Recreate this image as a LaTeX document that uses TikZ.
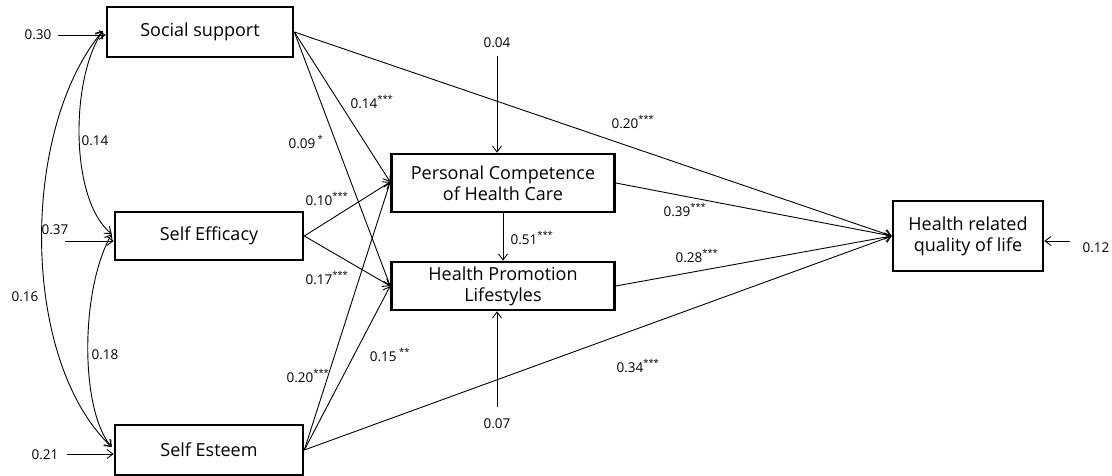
\documentclass[tikz,border=0pt]{standalone}
\usepackage{fontspec}
\setmainfont{Open Sans}
\usetikzlibrary{arrows.meta,calc}
\begin{document}
\begin{tikzpicture}[x=1pt,y=-1pt,
  box/.style={draw,line width=2.6pt,align=center,inner sep=0pt,font=\fontsize{18}{21}\selectfont},
  lab/.style={font=\fontsize{13.5}{15}\selectfont,inner sep=1pt},
  arr/.style={line width=0.9pt,-{Straight Barb[length=6pt,width=9pt]}},
  dbl/.style={line width=0.9pt,{Straight Barb[length=6pt,width=9pt]}-{Straight Barb[length=6pt,width=9pt]}}]
\useasboundingbox (0,0) rectangle (1112,476);
% boxes
\node[box,minimum width=186pt,minimum height=50pt] (ss) at (200,32) {Social support};
\node[box,minimum width=188pt,minimum height=48pt] (se) at (209,236) {Self Efficacy};
\node[box,minimum width=188pt,minimum height=50pt] (es) at (209,450) {Self Esteem};
\node[box,minimum width=223pt,minimum height=58pt] (pc) at (503,183) {Personal Competence\\of Health Care};
\node[box,minimum width=223pt,minimum height=48pt] (hp) at (503,286) {Health Promotion\\Lifestyles};
\node[box,minimum width=150pt,minimum height=70pt] (hq) at (968,236) {Health related\\quality of life};
% error terms
\node[lab] (e1) at (38,35) {0.30};
\node[lab] (e2) at (55,230) {0.37};
\node[lab] (e3) at (45,455) {0.21};
\node[lab] (e4) at (1096,248) {0.12};
\node[lab] (e5) at (497,43) {0.04};
\node[lab] (e6) at (497,424) {0.07};
\coordinate (c1) at (58,35);
\coordinate (c2) at (65,241);
\coordinate (c3) at (67,454);
\coordinate (c4) at (1070,241);
\coordinate (c5) at (497,56);
\coordinate (c6) at (497,407);
\draw[arr] (c1) -- (ss.west |- c1);
\draw[arr] (c2) -- (se.west |- c2);
\draw[arr] (c3) -- (es.west |- c3);
\draw[arr] (c4) -- (hq.east |- c4);
\draw[arr] (c5) -- (pc.north -| c5);
\draw[arr] (c6) -- (hp.south -| c6);
% covariances
\coordinate (a1) at ($(ss.west)+(-3,-1)$);
\coordinate (a2) at ($(se.west)+(-2,-2)$);
\coordinate (a3) at ($(es.west)+(-2,-3)$);
\draw[dbl] (a1) .. controls (70,80) and (70,200) .. (a2);
\draw[dbl] (a2) .. controls (80,290) and (80,410) .. (a3);
\draw[dbl] (a1) .. controls (20,130) and (20,360) .. (a3);
\node[lab] at (95,141) {0.14};
\node[lab] at (105,355) {0.18};
\node[lab] at (25,297) {0.16};
% paths
\draw[arr] (ss.east) -- (hq.west);
\draw[arr] (ss.east) -- ([yshift=1pt]pc.west);
\draw[arr] (ss.east) -- (hp.west);
\draw[arr] (se.east) -- ([yshift=1pt]pc.west);
\draw[arr] (se.east) -- (hp.west);
\draw[arr] (es.east) -- ([yshift=1pt]pc.west);
\draw[arr] (es.east) -- (hp.west);
\draw[arr] (es.east) -- (hq.west);
\draw[arr] (pc.east) -- (hq.west);
\draw[arr] (hp.east) -- (hq.west);
\draw[arr] (pc.south) -- (hp.north);
% path labels
\node[lab] at (633,122) {0.20\textsuperscript{***}};
\node[lab] at (372,102) {0.14\textsuperscript{***}};
\node[lab] at (306,142) {0.09\textsuperscript{ *}};
\node[lab] at (327,199) {0.10\textsuperscript{***}};
\node[lab] at (327,278) {0.17\textsuperscript{***}};
\node[lab] at (308,376) {0.20\textsuperscript{***}};
\node[lab] at (390,355) {0.15\textsuperscript{ **}};
\node[lab] at (638,366) {0.34\textsuperscript{***}};
\node[lab] at (685,210) {0.39\textsuperscript{***}};
\node[lab] at (697,256) {0.28\textsuperscript{***}};
\node[lab] at (532,238) {0.51\textsuperscript{***}};
\end{tikzpicture}
\end{document}
